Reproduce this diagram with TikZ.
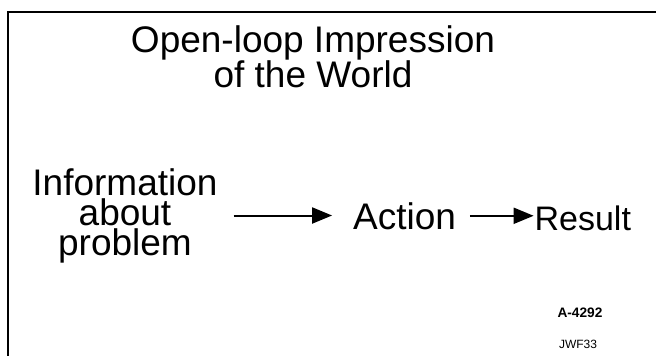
\documentclass[tikz,border=0pt]{standalone}
\usepackage{fontspec}
\setmainfont{Liberation Sans}
\usetikzlibrary{arrows.meta}

\begin{document}
\begin{tikzpicture}[x = 1pt, y = -1pt, line width = 2pt, every node/.style = { inner sep = 0pt, align = center }, bigtext/.style = { font = \fontsize{37}{33}\selectfont }, flow/.style = { -{Triangle[length = 20pt, width = 16pt]} }]
  \useasboundingbox (0, 0) rectangle (656, 356);
  \draw [line width = 2.5pt] (8, 356) -- (8, 12) -- (656, 12);

  \node [bigtext] (title) at (313, 57) {Open-loop Impression\\of the World};
  \node [bigtext, font = \fontsize{37}{30}\selectfont] (info) at (125, 215.5) {Information\\about\\problem};
  \node [bigtext, anchor = base] (action) at (404.5, 229) {Action};
  \node [bigtext, font = \fontsize{34}{33}\selectfont, anchor = base east] (result) at (632, 230) {Result};
  \node [font = \bfseries\fontsize{13.7}{16}\selectfont, anchor = base] (code) at (580, 317) {A-4292};
  \node [font = \fontsize{12}{14}\selectfont, anchor = base] (author) at (578, 348) {JWF33};

  \draw [flow, shorten < = 15pt, shorten > = 20pt] (info.east) -- (info.east -| action.west);
  \draw [flow, shorten < = 13pt] (action.east) -- (action.east -| result.west);
\end{tikzpicture}
\end{document}
